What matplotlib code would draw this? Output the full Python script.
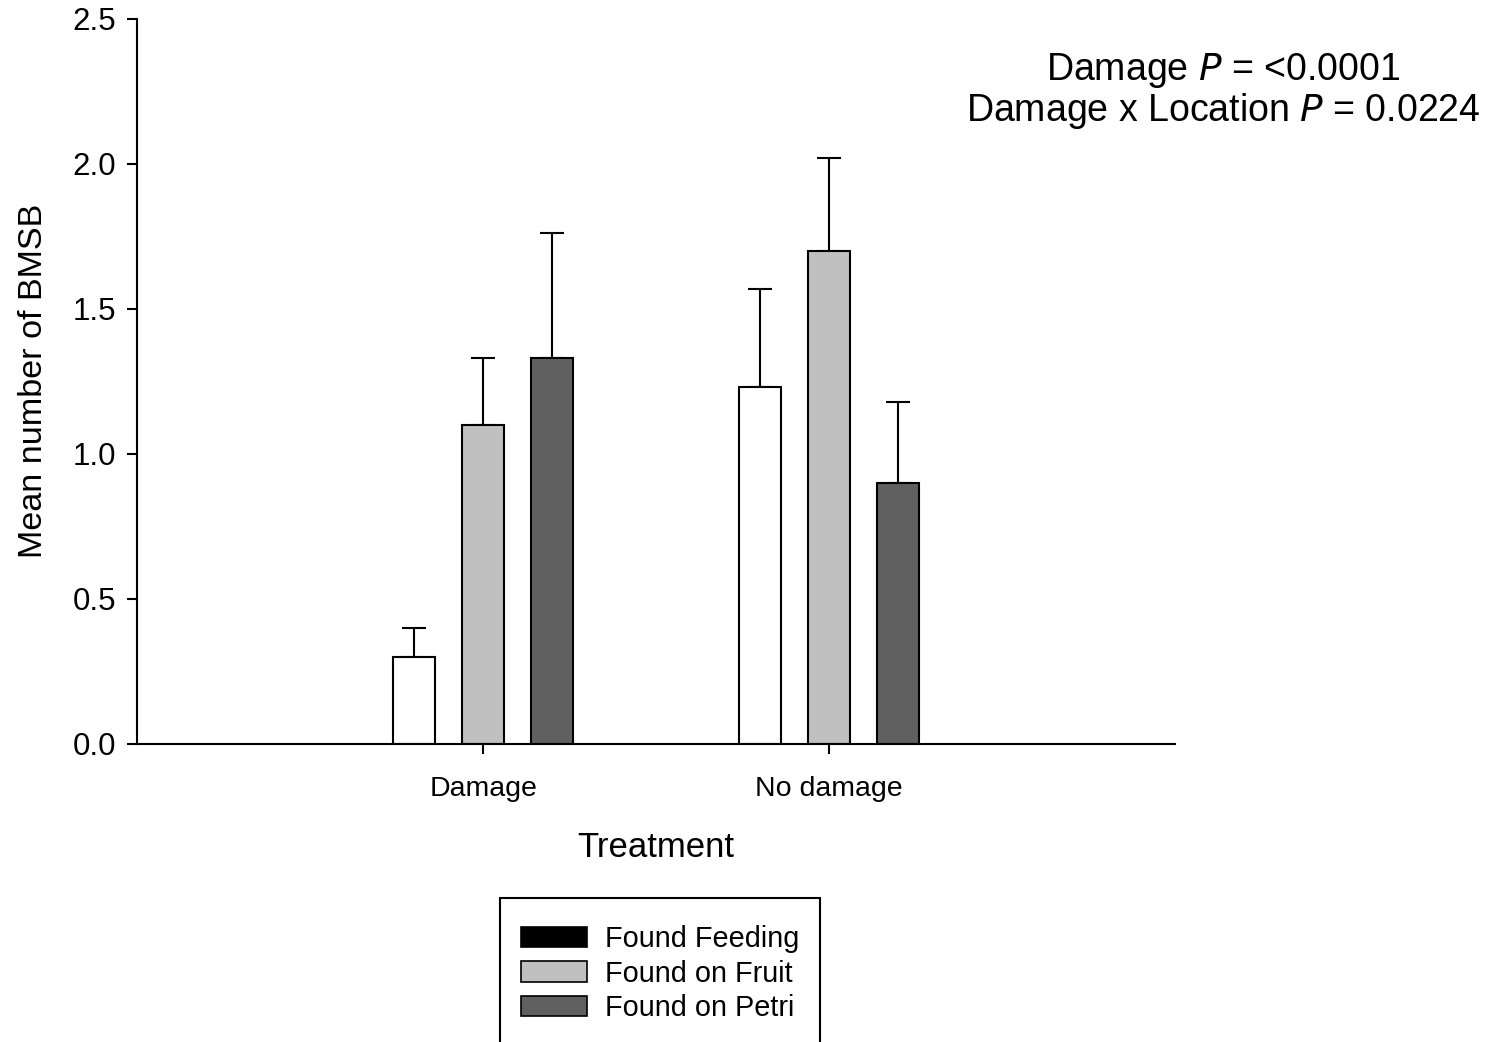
import numpy as np
import matplotlib
matplotlib.use("Agg")
import matplotlib.pyplot as plt
from matplotlib.patches import Patch, Rectangle

plt.rcParams['font.family'] = ['Liberation Sans', 'DejaVu Sans']

treatments = ["Damage", "No damage"]
locations  = ["Found Feeding", "Found on Fruit", "Found on Petri"]
# mean number of BMSB per location, one list per location (Damage, No damage)
feeding_mean = [0.30, 1.23]
fruit_mean   = [1.10, 1.70]
petri_mean   = [1.33, 0.90]
feeding_se   = [0.10, 0.34]
fruit_se     = [0.23, 0.32]
petri_se     = [0.43, 0.28]

bar_colors    = ["white", "#c0c0c0", "#606060"]
legend_colors = ["black", "#c0c0c0", "#606060"]

fig = plt.figure(figsize=(14.98, 10.42), dpi=100)
ax = fig.add_axes([0.0915, 0.286, 0.693, 0.696])

x = np.arange(1, len(treatments) + 1)
width = 0.121
offsets = [-0.2, 0.0, 0.2]
means = [feeding_mean, fruit_mean, petri_mean]
ses = [feeding_se, fruit_se, petri_se]
for off, m, s, c in zip(offsets, means, ses, bar_colors):
    ax.bar(x + off, m, width, color=c, edgecolor="black", linewidth=1.5, zorder=2)
    ax.errorbar(x + off, m, yerr=[np.zeros(len(m)), s], fmt="none",
                ecolor="black", elinewidth=1.5, capsize=8.3, capthick=1.5, zorder=1)

ax.set_xlim(0, 3)
ax.set_ylim(0, 2.5)
ax.set_xticks(x)
ax.set_xticklabels(treatments)
ax.set_yticks(np.arange(0, 2.51, 0.5))
ax.set_yticklabels([f"{v:.1f}" for v in np.arange(0, 2.51, 0.5)])
for side in ["top", "right"]:
    ax.spines[side].set_visible(False)
for side in ["left", "bottom"]:
    ax.spines[side].set_linewidth(1.5)
ax.tick_params(axis="both", direction="out", length=7, width=1.5)
ax.tick_params(axis="x", pad=16, labelsize=20.5)
ax.tick_params(axis="y", pad=8, labelsize=22.5)
ax.set_xlabel("Treatment", fontsize=25, labelpad=21)
ax.set_ylabel("Mean number of BMSB", fontsize=24.6, labelpad=17)

fig.text(0.8168, 0.9125, "Damage $\\it{P}$ = <0.0001\nDamage x Location $\\it{P}$ = 0.0224",
         ha="center", va="center", fontsize=27, linespacing=1.05)

# legend (frame drawn separately; it runs off the bottom of the figure)
handles = [Patch(facecolor=c, edgecolor="black", linewidth=1.2) for c in legend_colors]
leg = fig.legend(handles, locations, loc="upper center", bbox_to_anchor=(0.4406, 0.1345),
                 fontsize=20.75, frameon=False, borderaxespad=0,
                 handlelength=2.3, handleheight=0.72, handletextpad=0.6,
                 labelspacing=0.23, borderpad=0.8)
fig.patches.append(Rectangle((0.3338, -0.1), 0.2136, 0.2382, transform=fig.transFigure,
                             fill=False, edgecolor="black", linewidth=1.5))

plt.savefig("out.png", dpi=100)
plt.close()
